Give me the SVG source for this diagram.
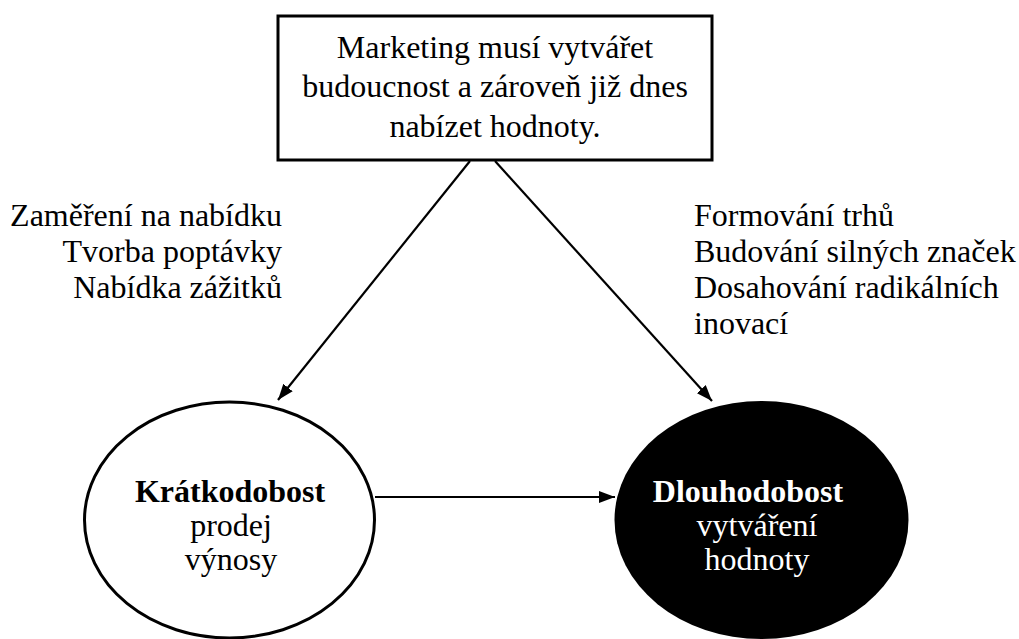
<svg xmlns="http://www.w3.org/2000/svg" width="1019" height="639" viewBox="0 0 1019 639">
  <style>
    .t { font-family: "Liberation Serif", "Times New Roman", serif; font-size: 32px; fill: #000; }
    .c { text-anchor: middle; }
    .r { text-anchor: end; }
    .b { font-weight: bold; }
    .w { fill: #fff; }
    .edge { stroke: #000; stroke-width: 2.2; fill: none; }
  </style>
  <defs>
    <marker id="arrow" viewBox="0 0 16 12" refX="16" refY="6" markerWidth="16" markerHeight="12" markerUnits="userSpaceOnUse" orient="auto">
      <path d="M0,0 L16,6 L0,12 Z" fill="#000"/>
    </marker>
  </defs>
  <rect width="1019" height="639" fill="#fff"/>

  <g id="connectors">
    <line class="edge" x1="470" y1="161" x2="278" y2="400" marker-end="url(#arrow)"/>
    <line class="edge" x1="495" y1="161" x2="712" y2="401" marker-end="url(#arrow)"/>
    <line class="edge" x1="375" y1="497" x2="615" y2="497" marker-end="url(#arrow)"/>
  </g>

  <g id="marketing">
    <rect x="278" y="16" width="434" height="144" fill="#fff" stroke="#000" stroke-width="3"/>
    <text class="t c" x="495" y="58">Marketing musí vytvářet</text>
    <text class="t c" x="495" y="97">budoucnost a zároveň již dnes</text>
    <text class="t c" x="495" y="137">nabízet hodnoty.</text>
  </g>

  <g id="short-term-focus">
    <text class="t r" x="282" y="226">Zaměření na nabídku</text>
    <text class="t r" x="282" y="262">Tvorba poptávky</text>
    <text class="t r" x="282" y="298">Nabídka zážitků</text>
  </g>

  <g id="long-term-focus">
    <text class="t" x="694" y="226">Formování trhů</text>
    <text class="t" x="694" y="262">Budování silných značek</text>
    <text class="t" x="694" y="298">Dosahování radikálních</text>
    <text class="t" x="694" y="334">inovací</text>
  </g>

  <g id="kratkodobost">
    <ellipse cx="229.5" cy="520" rx="145" ry="118" fill="#fff" stroke="#000" stroke-width="3"/>
    <text class="t c b" x="230" y="502">Krátkodobost</text>
    <text class="t c" x="231" y="536">prodej</text>
    <text class="t c" x="231" y="570">výnosy</text>
  </g>

  <g id="dlouhodobost">
    <ellipse cx="761.5" cy="520" rx="147" ry="119" fill="#000"/>
    <text class="t c b w" x="748" y="502">Dlouhodobost</text>
    <text class="t c w" x="757" y="536">vytváření</text>
    <text class="t c w" x="757" y="570">hodnoty</text>
  </g>
</svg>
